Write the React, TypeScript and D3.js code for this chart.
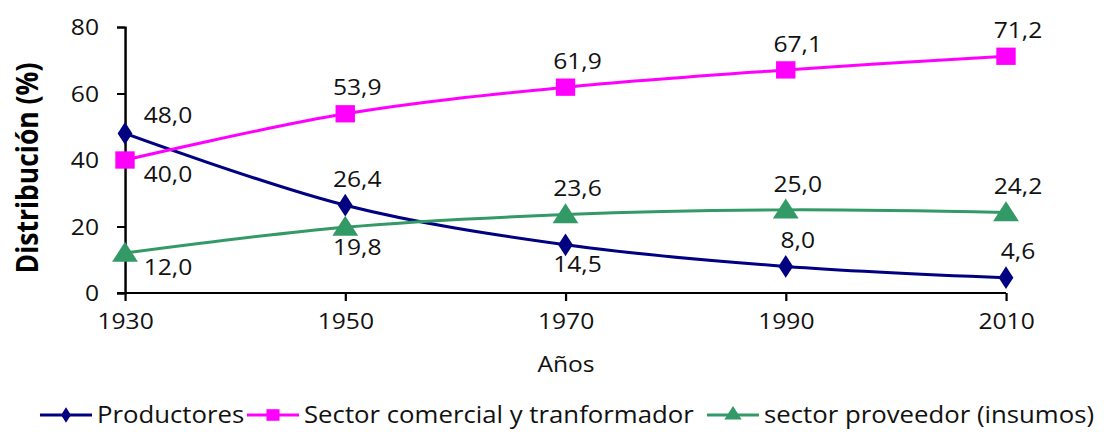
import React, { useEffect, useRef } from "react";
import * as d3 from "d3";

const years = [1930, 1950, 1970, 1990, 2010];
const productores = [48.0, 26.4, 14.5, 8.0, 4.6];
const comercial = [40.0, 53.9, 61.9, 67.1, 71.2];
const proveedor = [12.0, 19.8, 23.6, 25.0, 24.2];
const yTicks = [0, 20, 40, 60, 80];
const seriesNames = [
    "Productores",
    "Sector comercial y tranformador",
    "sector proveedor (insumos)",
];
// where each value label sits: a = above, b = below, r = above right, rb = below right
const labelPlaces = [
    ["r", "a", "b", "a", "a"],
    ["rb", "a", "a", "a", "a"],
    ["rb", "b", "a", "a", "a"],
];

const K = 1.12; // horizontal stretch of the picture
const W = 1107 / K;
const H = 432;
const FONT = "'Open Sans', sans-serif";
const TEXT = "#111";
const colors = ["#000080", "#ff00ff", "#339966"];

const fmt = (v: number) => v.toFixed(1).replace(".", ",");

const App: React.FC = () => {
    const svgRef = useRef<SVGSVGElement>(null);

    useEffect(() => {
        const svg = d3.select(svgRef.current);
        svg.selectAll("*").remove();

        const x = d3.scaleLinear().domain([1930, 2010]).range([125 / K, 1006 / K]);
        const y = d3.scaleLinear().domain([0, 80]).range([293, 27]);

        // y axis
        const ya = svg
            .append("g")
            .attr("transform", `translate(${x(1930)},0)`)
            .call(d3.axisLeft(y).tickValues(yTicks).tickSize(8 / K).tickPadding(18 / K).tickFormat(d3.format("d")));
        ya.select(".domain").attr("stroke", "#000").attr("stroke-width", 2.2);
        ya.selectAll(".tick line").attr("stroke", "#000").attr("stroke-width", 2);
        ya.selectAll(".tick text")
            .attr("font-family", FONT)
            .attr("font-size", 22)
            .attr("fill", TEXT)
            .attr("dy", "0.35em");

        // x axis
        const xa = svg
            .append("g")
            .attr("transform", `translate(0,${y(0)})`)
            .call(d3.axisBottom(x).tickValues(years).tickSize(8).tickPadding(12).tickFormat(d3.format("d")));
        xa.select(".domain")
            .attr("stroke", "#000")
            .attr("stroke-width", 2.2)
            .attr("d", `M${x(1930) - 8 / K},0H${x(2010)}`);
        xa.selectAll(".tick line").attr("stroke", "#000").attr("stroke-width", 2);
        xa.selectAll(".tick text").attr("font-family", FONT).attr("font-size", 22).attr("fill", TEXT);

        svg.append("text")
            .attr("x", 566 / K)
            .attr("y", 372)
            .attr("text-anchor", "middle")
            .attr("font-family", FONT)
            .attr("font-size", 22)
            .attr("fill", TEXT)
            .text("Años");

        svg.append("text")
            .attr("transform", `translate(${38 / K},${168}) rotate(-90)`)
            .attr("text-anchor", "middle")
            .attr("font-family", FONT)
            .attr("font-weight", "bold")
            .attr("font-size", 26.5)
            .attr("fill", "#000")
            .text("Distribución (%)");

        const data = [productores, comercial, proveedor];
        const symbols = [d3.symbolDiamond, d3.symbolSquare, d3.symbolTriangle];
        const symSizes = [150, 300, 230];

        const line = d3
            .line<number>()
            .x((_, i) => x(years[i]))
            .y((d) => y(d))
            .curve(d3.curveCatmullRom);

        data.forEach((vals, s) => {
            svg.append("path")
                .datum(vals)
                .attr("fill", "none")
                .attr("stroke", colors[s])
                .attr("stroke-width", 3)
                .attr("d", line);

            svg.selectAll(`.m${s}`)
                .data(vals)
                .enter()
                .append("path")
                .attr("transform", (d, i) => `translate(${x(years[i])},${y(d) + (s === 2 ? 2 : 0)})`)
                .attr("d", d3.symbol().type(symbols[s]).size(symSizes[s]))
                .attr("fill", colors[s]);
        });

        data.forEach((vals, s) => {
            svg.selectAll(`.l${s}`)
                .data(vals)
                .enter()
                .append("text")
                .attr("x", (d, i) => {
                    const p = labelPlaces[s][i];
                    return x(years[i]) + (p === "r" || p === "rb" ? 43 : 12) / K;
                })
                .attr("y", (d, i) => {
                    const p = labelPlaces[s][i];
                    if (p === "r") return y(d) - 18;
                    if (p === "rb") return y(d) + 14;
                    if (p === "b") return y(d) + 20;
                    return y(d) - 26;
                })
                .attr("dy", "0.35em")
                .attr("text-anchor", "middle")
                .attr("font-family", FONT)
                .attr("font-size", 22)
                .attr("fill", TEXT)
                .text((d) => fmt(d));
        });

        // legend
        const legendX = [40, 247, 707];
        const legendY = 415;
        seriesNames.forEach((name, s) => {
            const g = svg.append("g").attr("transform", `translate(${legendX[s] / K},${legendY})`);
            g.append("line")
                .attr("x1", 0)
                .attr("x2", 52 / K)
                .attr("stroke", colors[s])
                .attr("stroke-width", 3);
            g.append("path")
                .attr("transform", `translate(${26 / K},0)`)
                .attr("d", d3.symbol().type(symbols[s]).size(symSizes[s] * 0.45))
                .attr("fill", colors[s]);
            g.append("text")
                .attr("x", 57 / K)
                .attr("dy", "0.35em")
                .attr("font-family", FONT)
                .attr("font-size", 23)
                .attr("fill", TEXT)
                .text(name);
        });
    }, []);

    return (
        <svg
            ref={svgRef}
            width={1107}
            height={H}
            viewBox={`0 0 ${W} ${H}`}
            preserveAspectRatio="none"
            style={{ position: "absolute", left: 0, top: 0, background: "#fff" }}
        />
    );
};

export default App;
